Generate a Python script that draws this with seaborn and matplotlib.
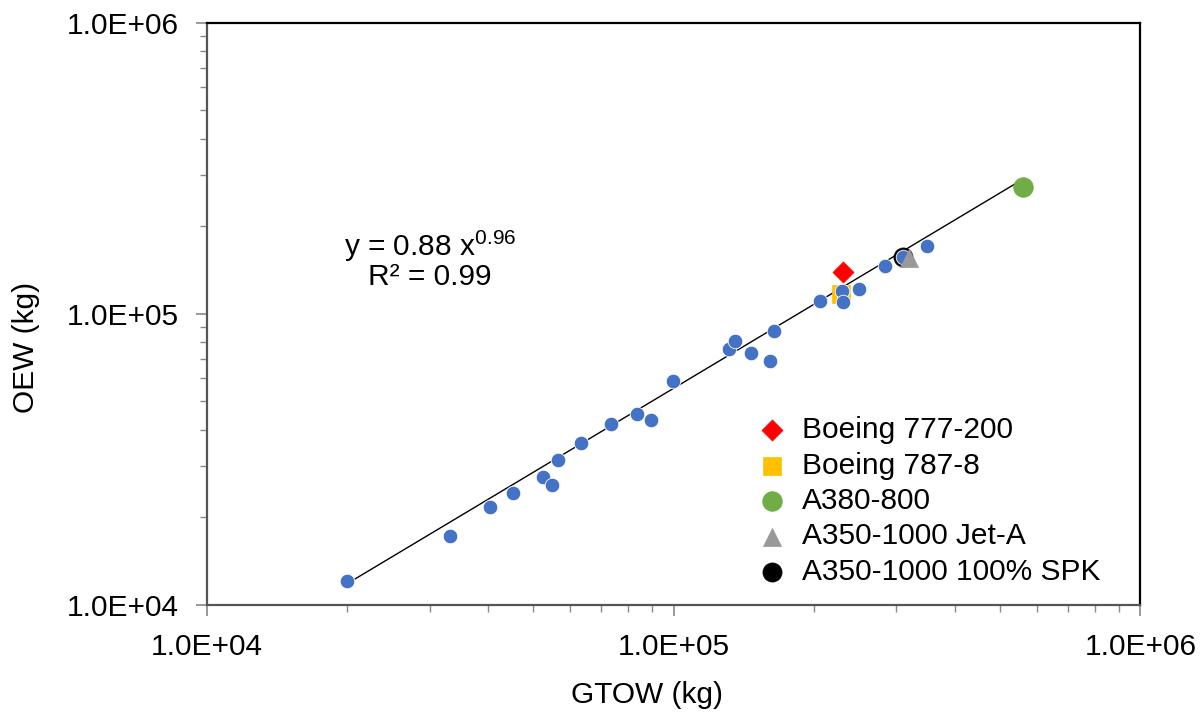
import numpy as np
import pandas as pd
import matplotlib
matplotlib.use('Agg')
import matplotlib.pyplot as plt
import seaborn as sns
from matplotlib.ticker import FuncFormatter, LogLocator

# aircraft database (GTOW, OEW in kg)
gtow = [2.0e4, 3.32e4, 4.05e4, 4.53e4, 5.25e4, 5.49e4, 5.65e4, 6.34e4, 7.35e4, 8.35e4,
        8.95e4, 9.98e4, 1.315e5, 1.355e5, 1.466e5, 1.61e5, 1.64e5, 2.06e5, 2.29e5, 2.31e5,
        2.50e5, 2.84e5, 3.10e5, 3.49e5]
oew = [1.21e4, 1.73e4, 2.17e4, 2.43e4, 2.75e4, 2.58e4, 3.15e4, 3.60e4, 4.19e4, 4.53e4,
       4.32e4, 5.89e4, 7.58e4, 8.07e4, 7.35e4, 6.89e4, 8.74e4, 1.11e5, 1.20e5, 1.10e5,
       1.22e5, 1.46e5, 1.57e5, 1.71e5]

# highlighted aircraft
special_names = ['Boeing 777-200', 'Boeing 787-8', 'A380-800', 'A350-1000 Jet-A', 'A350-1000 100% SPK']
special_gtow = [2.30e5, 2.28e5, 5.60e5, 3.19e5, 3.10e5]
special_oew = [1.39e5, 1.17e5, 2.72e5, 1.55e5, 1.57e5]

# power-law trendline y = a * x^b
fit_a = 0.88
fit_b = 0.96
fit_r2 = 0.99

sns.set_theme(style='white')
plt.rcParams['font.family'] = ['Liberation Sans', 'DejaVu Sans']
plt.rcParams['mathtext.fontset'] = 'custom'
plt.rcParams['mathtext.rm'] = 'Liberation Sans'
plt.rcParams['text.color'] = 'black'
plt.rcParams['axes.labelcolor'] = 'black'
plt.rcParams['xtick.labelcolor'] = 'black'
plt.rcParams['ytick.labelcolor'] = 'black'

fig = plt.figure(figsize=(12.03, 7.15), dpi=100)
ax = fig.add_axes([0.172, 0.154, 0.776, 0.814])

df = pd.DataFrame({'GTOW': gtow, 'OEW': oew})
sns.scatterplot(data=df, x='GTOW', y='OEW', color='#4472C4', s=110, edgecolor='white',
                linewidth=0.6, ax=ax, zorder=4)

# trendline over the data range
xs = np.array([min(gtow), max(special_gtow)])
ax.plot(xs, fit_a * xs ** fit_b, color='black', lw=1.0, zorder=2)

styles = [('D', '#FF0000', 115), ('s', '#FFC000', 160), ('o', '#70AD47', 200),
          ('^', '#999999', 170), ('o', 'black', 190)]
zorders = [6, 3, 6, 7, 3]
for i in range(len(special_names)):
    m, c, s = styles[i]
    sns.scatterplot(x=[special_gtow[i]], y=[special_oew[i]], marker=m, color=c, s=s,
                    edgecolor=c, linewidth=0.5, ax=ax, zorder=zorders[i],
                    label=special_names[i])

ax.set_xscale('log')
ax.set_yscale('log')
ax.set_xlim(1e4, 1e6)
ax.set_ylim(1e4, 1e6)

fmt = FuncFormatter(lambda v, p: f'{v:.1E}')
ax.xaxis.set_major_formatter(fmt)
ax.yaxis.set_major_formatter(fmt)
ax.xaxis.set_major_locator(LogLocator(base=10, numticks=5))
ax.yaxis.set_major_locator(LogLocator(base=10, numticks=5))
ax.xaxis.set_minor_locator(LogLocator(base=10, subs=np.arange(2, 10), numticks=20))
ax.yaxis.set_minor_locator(LogLocator(base=10, subs=np.arange(2, 10), numticks=20))
ax.xaxis.set_minor_formatter(plt.NullFormatter())
ax.yaxis.set_minor_formatter(plt.NullFormatter())
ax.tick_params(which='major', direction='out', length=8, width=1.2, color='#888888',
               labelsize=21.5, pad=12, bottom=True, left=True)
ax.tick_params(which='minor', direction='out', length=5, width=1.0, color='#888888',
               bottom=True, left=True)

for name, sp in ax.spines.items():
    sp.set_linewidth(1.6)
    sp.set_color('#555555' if name in ('left', 'bottom') else 'black')

ax.set_xlabel('GTOW (kg)', fontsize=21.5)
ax.set_ylabel('OEW (kg)', fontsize=21.5)
ax.xaxis.set_label_coords(0.4716, -0.1546)
ax.yaxis.set_label_coords(-0.194, 0.4416)
ax.xaxis.label.set_va('center')
ax.yaxis.label.set_va('center')

ax.text(0.239, 0.616, r'y = 0.88 x$^{0.96}$', transform=ax.transAxes, fontsize=21.5,
        ha='center', va='center')
ax.text(0.239, 0.563, f'R² = {fit_r2}', transform=ax.transAxes, fontsize=21.5,
        ha='center', va='center')

# legend in original series order
handles, labels = ax.get_legend_handles_labels()
lookup = dict(zip(labels, handles))
ax.legend([lookup[n] for n in special_names], special_names, loc='upper left',
          bbox_to_anchor=(0.573, 0.345), frameon=False, fontsize=21.5, handlelength=1.2,
          handletextpad=0.4, labelspacing=0.25, borderaxespad=0)

fig.savefig('out.png', dpi=100)
